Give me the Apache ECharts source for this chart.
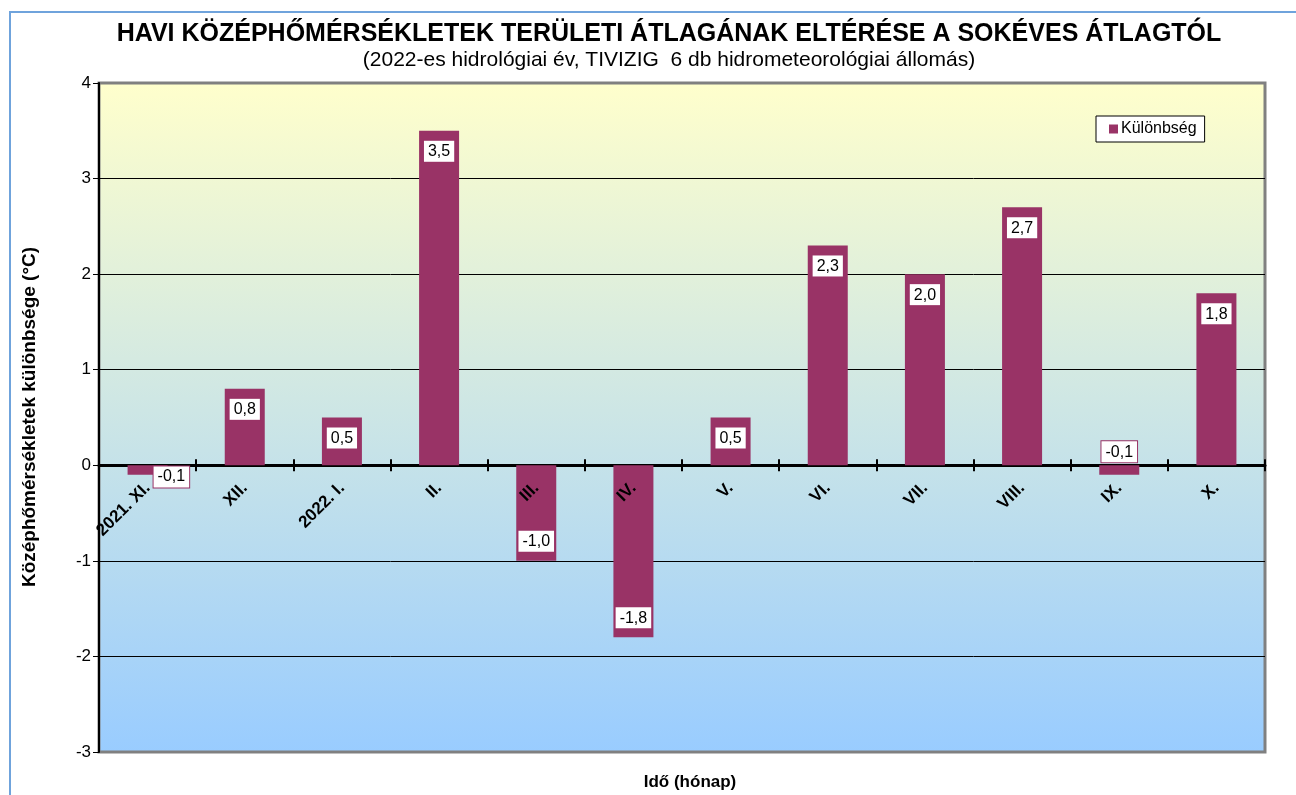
<!DOCTYPE html>
<html>
<head>
<meta charset="utf-8">
<script src="https://cdn.jsdelivr.net/npm/echarts@6/dist/echarts.min.js"></script>
<style>
  html, body { margin: 0; padding: 0; background: #fff; }
  #chart { width: 1296px; height: 795px; }
</style>
</head>
<body>
<div id="chart"></div>
<script>
// havi adatok
const months = ['2021. XI.', 'XII.', '2022. I.', 'II.', 'III.', 'IV.', 'V.', 'VI.', 'VII.', 'VIII.', 'IX.', 'X.']
const diffValues = [-0.1, 0.8, 0.5, 3.5, -1.0, -1.8, 0.5, 2.3, 2.0, 2.7, -0.1, 1.8]
const yTicks = [-3, -2, -1, 0, 1, 2, 3, 4]

const FONT = 'Arial, "Liberation Sans", sans-serif'
const BAR = '#993366'

const labelBox = {
  show: true,
  color: '#000',
  fontFamily: FONT,
  fontSize: 16,
  backgroundColor: '#fff',
  borderColor: BAR,
  borderWidth: 1,
  padding: [3, 4, 2, 4],
  formatter: p => p.value.toFixed(1).replace('.', ',')
}

// kis negativ ertekek cimkeje mashol all
const barData = diffValues.map((v, i) => {
  let label
  if (i === 0) label = { position: 'right', distance: 0, offset: [-14, 7] }
  else if (v < 0 && v > -0.5) label = { position: 'top', distance: 3 }
  else if (v < 0) label = { position: 'insideBottom', distance: 9 }
  else label = { position: 'insideTop', distance: 10 }
  return { value: v, label }
})

// rajzterulet
const PLOT_TOP = 83
const PLOT_BOTTOM = 43
const plotH = 795 - PLOT_TOP - PLOT_BOTTOM
const yMin = yTicks[0]
const yMax = yTicks[yTicks.length - 1]
// a 0 vonal helye alulrol merve
const zeroFromBottom = PLOT_BOTTOM + plotH * (0 - yMin) / (yMax - yMin)

const chart = echarts.init(document.getElementById('chart'))
const option = {
  animation: false,
  title: [
    {
      text: 'HAVI KÖZÉPHŐMÉRSÉKLETEK TERÜLETI ÁTLAGÁNAK ELTÉRÉSE A SOKÉVES ÁTLAGTÓL',
      left: 664, top: 17, textAlign: 'center',
      textStyle: { fontFamily: FONT, fontSize: 25, fontWeight: 'bold', color: '#000' }
    },
    {
      text: '(2022-es hidrológiai év, TIVIZIG  6 db hidrometeorológiai állomás)',
      left: 664, top: 45, textAlign: 'center',
      textStyle: { fontFamily: FONT, fontSize: 21, fontWeight: 'normal', color: '#000' }
    }
  ],
  legend: {
    left: 1096, top: 116,
    backgroundColor: '#fff',
    borderColor: '#000',
    borderWidth: 1,
    padding: [5, 8, 5, 13],
    icon: 'rect',
    itemWidth: 9, itemHeight: 9, itemGap: 4,
    textStyle: { fontFamily: FONT, fontSize: 16, color: '#000', padding: [0, 0, 0, -2] },
    data: ['Különbség']
  },
  graphic: [
    {
      type: 'rect', silent: true, z: -10,
      shape: { x: 10, y: 12, width: 1400, height: 900 },
      style: { fill: null, stroke: '#6fa3dc', lineWidth: 2 }
    },
    {
      type: 'text', x: 30, y: 417, rotation: Math.PI / 2,
      style: {
        text: 'Középhőmérsékletek különbsége (°C)',
        font: 'bold 19px ' + FONT, fill: '#000',
        align: 'center', verticalAlign: 'middle'
      }
    },
    {
      type: 'text', x: 690, y: 782,
      style: {
        text: 'Idő (hónap)',
        font: 'bold 17px ' + FONT, fill: '#000',
        align: 'center', verticalAlign: 'middle'
      }
    }
  ],
  grid: [
    {
      left: 99, right: 31, top: PLOT_TOP, bottom: PLOT_BOTTOM,
      outerBoundsMode: 'none',
      show: true,
      borderColor: '#808080',
      borderWidth: 3,
      backgroundColor: {
        type: 'linear', x: 0, y: 0, x2: 0, y2: 1,
        colorStops: [
          { offset: 0, color: '#ffffcc' },
          { offset: 1, color: '#99ccff' }
        ]
      }
    },
    // a felso resz a 0 vonalig: felfele allo osztasjelek es a honap feliratok
    {
      left: 99, right: 31, top: PLOT_TOP, bottom: zeroFromBottom,
      outerBoundsMode: 'none',
      show: false
    }
  ],
  xAxis: [
    {
      type: 'category',
      gridIndex: 0,
      data: months,
      axisLine: { onZero: true, lineStyle: { color: '#000', width: 3 } },
      axisTick: { show: true, length: 6, lineStyle: { color: '#000', width: 2 } },
      axisLabel: { show: false }
    },
    {
      type: 'category',
      gridIndex: 1,
      position: 'bottom',
      z: 10,
      data: months,
      axisLine: { show: false, onZero: false },
      axisTick: { show: true, inside: true, length: 6, lineStyle: { color: '#000', width: 2 } },
      axisLabel: {
        rotate: 45, margin: 20, interval: 0,
        fontFamily: FONT, fontSize: 17, fontWeight: 'bold', color: '#000'
      }
    }
  ],
  yAxis: [
    {
      type: 'value',
      gridIndex: 0,
      min: yMin,
      max: yMax,
      interval: 1,
      axisLine: { show: true, lineStyle: { color: '#000', width: 2 } },
      axisTick: { show: true, length: 6, lineStyle: { color: '#000' } },
      axisLabel: { margin: 8, fontFamily: FONT, fontSize: 17, color: '#000' },
      splitLine: { show: true, showMinLine: false, showMaxLine: false, lineStyle: { color: '#000', width: 1 } }
    },
    {
      type: 'value',
      gridIndex: 1,
      min: 0,
      max: yMax,
      interval: 1,
      show: false,
      splitLine: { show: false }
    }
  ],
  series: [{
    name: 'Különbség',
    type: 'bar',
    xAxisIndex: 0,
    yAxisIndex: 0,
    barWidth: 40,
    itemStyle: { color: BAR },
    label: labelBox,
    data: barData
  }]
}
chart.setOption(option)
</script>
</body>
</html>
